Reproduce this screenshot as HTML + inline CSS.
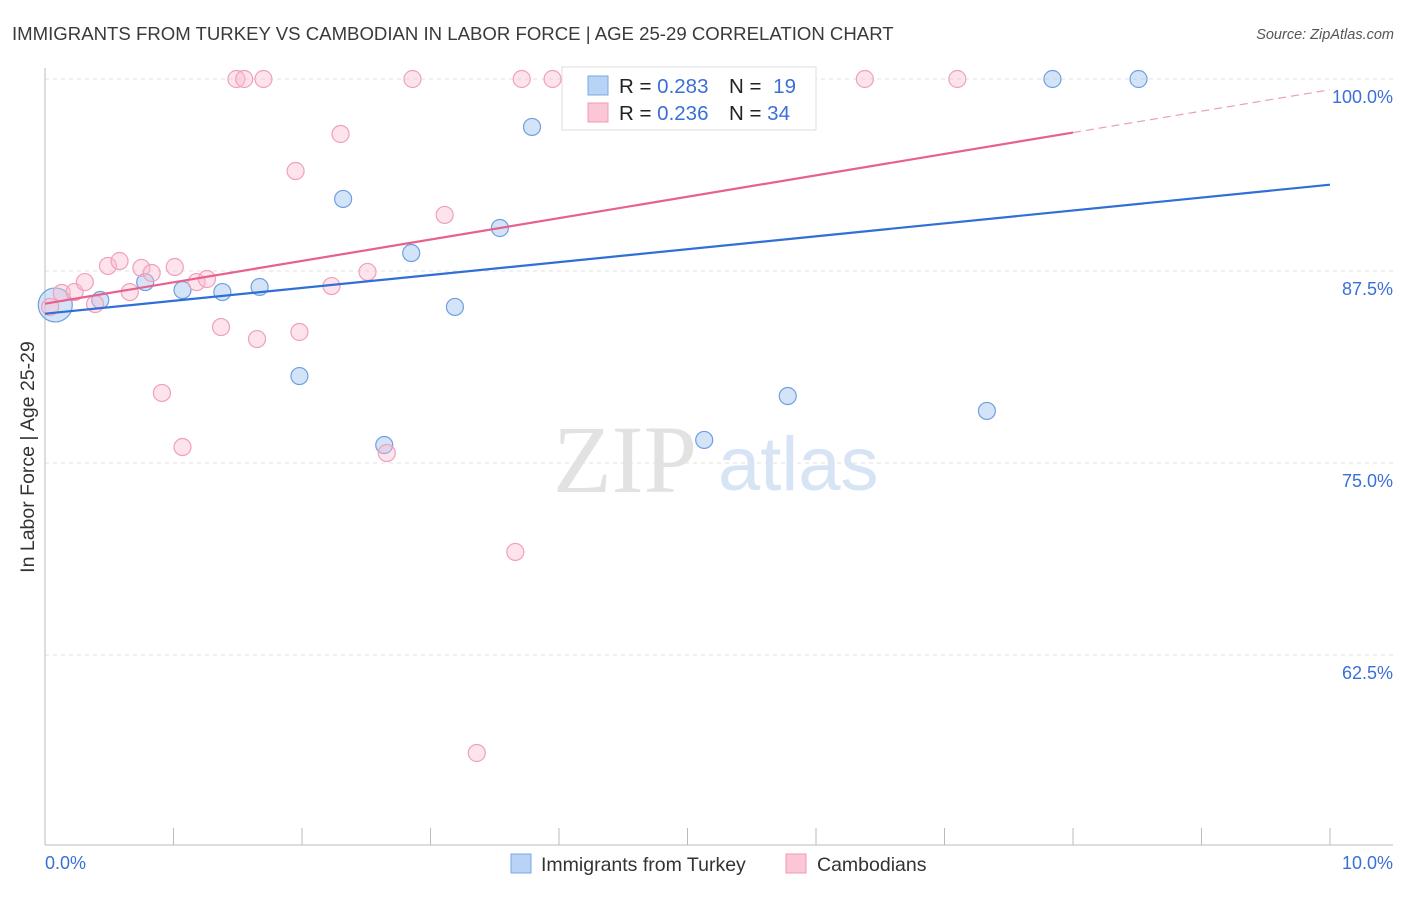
<!DOCTYPE html>
<html><head><meta charset="utf-8"><style>
body{margin:0;background:#fff;font-family:"Liberation Sans",sans-serif}
svg text{font-family:"Liberation Sans",sans-serif}
</style></head><body>
<svg id="c" width="1406" height="892" xmlns="http://www.w3.org/2000/svg">
<text x="12" y="40" font-size="18.6" fill="#3a3a3a">IMMIGRANTS FROM TURKEY VS CAMBODIAN IN LABOR FORCE | AGE 25-29 CORRELATION CHART</text>
<text x="1394" y="39" font-size="14.5" fill="#555" text-anchor="end" font-style="italic">Source: ZipAtlas.com</text>
<g>
<text x="553" y="492" font-size="96" fill="#e2e2e2" font-family="Liberation Serif" style="font-family:'Liberation Serif',serif">ZIP</text>
<text x="718" y="490" font-size="76" fill="#d6e4f5">atlas</text>
</g>
<g id="grid"></g>
<line x1="45" y1="68" x2="45" y2="845" stroke="#bbb"/>
<line x1="45" y1="845" x2="1393" y2="845" stroke="#bbb"/>
<g id="ticks"></g>
<g id="pts"></g>
<g id="lines"></g>
<text x="34" y="457" font-size="19.5" fill="#333" text-anchor="middle" transform="rotate(-90 34 457)">In Labor Force | Age 25-29</text>
<text x="45" y="869" font-size="18" fill="#3a6fd8">0.0%</text>
<text x="1393" y="869" font-size="18" fill="#3a6fd8" text-anchor="end">10.0%</text>
<g>
<rect x="562" y="67" width="254" height="63" fill="#fff" stroke="#ddd"/>
<rect x="588" y="76" width="20" height="19" fill="#b8d3f5" stroke="#7aa8e6"/>
<rect x="588" y="103" width="20" height="19" fill="#fbc6d6" stroke="#f19bb5"/>
<text x="619" y="93" font-size="20.5" fill="#222">R = <tspan fill="#3a6fd8">0.283</tspan></text>
<text x="729" y="93" font-size="20.5" fill="#222">N = <tspan fill="#3a6fd8" dx="6">19</tspan></text>
<text x="619" y="120" font-size="20.5" fill="#222">R = <tspan fill="#3a6fd8">0.236</tspan></text>
<text x="729" y="120" font-size="20.5" fill="#222">N = <tspan fill="#3a6fd8">34</tspan></text>
</g>
<g>
<rect x="511" y="854" width="20" height="19" fill="#b8d3f5" stroke="#7aa8e6"/>
<text x="541" y="871" font-size="19.5" fill="#333">Immigrants from Turkey</text>
<rect x="786" y="854" width="20" height="19" fill="#fbc6d6" stroke="#f19bb5"/>
<text x="817" y="871" font-size="19.5" fill="#333">Cambodians</text>
</g>
</svg>
<script>
const yTicks=[100,87.5,75,62.5];
const yTickLabels=["100.0%","87.5%","75.0%","62.5%"];
const blueX=[0.08,0.43,0.78,1.07,1.38,1.67,1.98,2.32,2.64,2.85,3.19,3.54,3.79,4.51,5.13,5.78,7.33,7.84,8.51];
const blueY=[85.29,85.61,86.78,86.26,86.13,86.46,80.66,92.19,76.17,88.67,85.16,90.30,96.88,100,76.50,79.36,78.39,100,100];
const pinkX=[0.04,0.13,0.23,0.31,0.39,0.49,0.58,0.66,0.75,0.83,0.91,1.01,1.07,1.18,1.26,1.37,1.49,1.55,1.65,1.70,1.95,1.98,2.23,2.30,2.51,2.66,2.86,3.11,3.36,3.66,3.71,3.95,6.38,7.10];
const pinkY=[85.16,86.07,86.13,86.78,85.35,87.83,88.15,86.13,87.70,87.37,79.56,87.76,76.04,86.78,86.98,83.85,100,100,83.07,100,94.01,83.53,86.52,96.42,87.44,75.65,100,91.15,56.12,69.21,100,100,100,100];
const blueTrend=[84.72,93.12];
const pinkTrend=[85.37,99.3];
const pinkSolidEnd=8.0;
const X=v=>45+v*128.5, Y=v=>79+(100-v)*15.36;
const NS="http://www.w3.org/2000/svg";
function mk(p,t,a){const e=document.createElementNS(NS,t);for(const k in a)e.setAttribute(k,a[k]);document.getElementById(p).appendChild(e);return e;}
yTicks.forEach((t,i)=>{
 const l=mk('grid','line',{x1:45,x2:1393,y1:Y(t),y2:Y(t),stroke:'#e2e2e2','stroke-dasharray':'4,4'});
 
 
 const tx=mk('grid','text',{x:1393,y:Y(t)+24,'font-size':18,fill:'#3a6fd8','text-anchor':'end'});
 tx.textContent=yTickLabels[i];
 
 
});
for(let i=1;i<=10;i++){
 const l=mk('ticks','line',{x1:X(i),x2:X(i),y1:828,y2:845,stroke:'#bbb'});
 
 
}
blueX.forEach((x,i)=>{
 const c=mk('pts','circle',{cx:X(x),cy:Y(blueY[i]),r:i==0?17:8.5,fill:'rgba(160,196,240,0.45)',stroke:'#6f9fe0','stroke-width':1.2});
 
 
});
pinkX.forEach((x,i)=>{
 const c=mk('pts','circle',{cx:X(x),cy:Y(pinkY[i]),r:8.5,fill:'rgba(250,185,205,0.4)',stroke:'#f0a0bb','stroke-width':1.2});
 
 
});
const bl=mk('lines','line',{x1:X(0),y1:Y(blueTrend[0]),x2:X(10),y2:Y(blueTrend[1]),stroke:'#2f6fd6','stroke-width':2.2});


const pm=pinkTrend[0]+(pinkTrend[1]-pinkTrend[0])*pinkSolidEnd/10;
const pl=mk('lines','line',{x1:X(0),y1:Y(pinkTrend[0]),x2:X(pinkSolidEnd),y2:Y(pm),stroke:'#e8608c','stroke-width':2.2});


const pd=mk('lines','line',{x1:X(pinkSolidEnd),y1:Y(pm),x2:X(10),y2:Y(pinkTrend[1]),stroke:'#e8a0b8','stroke-width':1.2,'stroke-dasharray':'8,5'});


</script>
</body></html>
